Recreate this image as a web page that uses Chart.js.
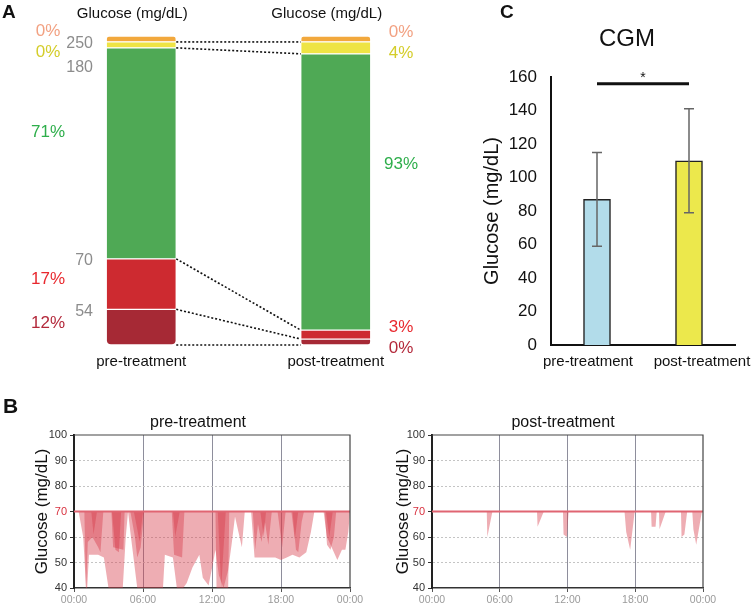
<!DOCTYPE html>
<html>
<head>
<meta charset="utf-8">
<script src="https://cdn.jsdelivr.net/npm/chart.js@4.4.1/dist/chart.umd.min.js"></script>
<style>
  html, body { margin: 0; padding: 0; background: #fff; }
  body { width: 752px; height: 607px; position: relative; overflow: hidden; }
  .box { position: absolute; }
</style>
</head>
<body>
<div class="box" style="left:0;top:0"><canvas id="rangeChart" width="440" height="380"></canvas></div>
<div class="box" style="left:420px;top:0"><canvas id="cgmChart" width="332" height="380"></canvas></div>
<div class="box" style="left:0;top:380px"><canvas id="preChart" width="376" height="227"></canvas></div>
<div class="box" style="left:376px;top:380px"><canvas id="postChart" width="376" height="227"></canvas></div>
<script>
const FONT = '"Liberation Sans", Arial, sans-serif';

// Panel A - time in ranges, listed bottom to top
const rangeNames = ['very low', 'low', 'in range', 'high', 'very high'];
const rangeCutoffs = ['54', '70', '180', '250'];
const groupNames = ['pre-treatment', 'post-treatment'];
const prePercent = [12, 17, 71, 0, 0];
const postPercent = [0, 3, 93, 4, 0];

// Panel C - mean CGM glucose with SD
const cgmMean = [87, 110];
const cgmSd = [28, 31];
const sigLevel = 156;

// Panel B - glucose traces below 70 mg/dL, [hour, mg/dL]
const hourLabels = ['00:00', '06:00', '12:00', '18:00', '00:00'];
const preTrace1 = [[0,70],[0.4,70],[0.8,60],[1.1,36],[1.3,53],[2.1,53],[2.6,52],[3.1,37],[4.2,37],[4.5,60],[4.7,70],
  [4.9,62],[5.5,40],[6.2,37],[7.7,37],[7.9,53],[8.6,52],[9.0,38],[9.5,40],[9.8,42],[10.3,48],[10.9,53],[11.2,44],
  [11.7,41],[12.1,50],[12.3,55],[12.6,45],[13.0,40],[13.4,47],[13.7,57],[14.0,68],[14.3,62],[14.6,56],[14.85,70],
  [15.4,70],[15.7,52],[16.2,52],[17.0,52],[17.5,52],[18.0,51],[18.5,52],[19.0,53],[19.6,52],[20.2,54],[20.6,62],
  [20.9,70],[21.7,70],[22.0,60],[22.5,55],[22.9,51],[23.3,55],[23.6,55],[23.85,62],[24,70]];
const preTrace2 = [[0,70],[0.9,70],[1.04,38],[1.2,58],[1.6,60],[2.1,56],[2.3,54],[2.55,70],[3.25,70],[3.4,56],
  [4.3,55],[4.4,70],[4.9,70],[5.3,60],[5.5,52],[5.8,56],[6.1,70],[8.5,70],[8.7,53],[9.4,52],[9.6,70],[12.3,70],
  [12.4,38],[13.4,38],[13.5,70],[15.55,70],[15.75,55],[16.0,65],[16.3,58],[16.6,66],[16.9,57],[17.2,70],[17.7,70],
  [18.1,56],[18.4,70],[19.0,70],[19.3,55],[19.5,54],[19.8,66],[20.0,70],[21.8,70],[22.0,57],[22.3,55],[22.6,60],
  [22.8,70],[24,70]];
const preTrace3 = [[0,70],[1.5,70],[1.7,61],[2.0,70],[3.3,70],[3.6,55],[3.9,54],[4.1,70],[5.2,70],[5.5,63],
  [5.7,58],[6.0,70],[8.6,70],[8.8,60],[9.2,70],[12.5,70],[12.8,40],[13.2,70],[16.2,70],[16.5,60],[16.7,70],
  [18.9,70],[19.2,59],[19.5,70],[21.9,70],[22.2,60],[22.5,70],[24,70]];
const postTrace1 = [[0,70],[4.85,70],[4.9,60],[5.35,70],[9.3,70],[9.35,64],[9.9,70],[11.6,70],[11.65,61],[11.95,60],
  [12.1,70],[17.05,70],[17.2,62],[17.55,55],[17.95,70],[19.4,70],[19.45,64],[19.8,64],[19.9,70],[20.1,70],
  [20.15,63],[20.7,70],[22.05,70],[22.1,60],[22.35,61],[22.6,70],[23.05,70],[23.15,63],[23.4,57],[23.9,70],[24,70]];

const rangeColors = ['#a62935', '#cd2a30', '#4fa955', '#eee444', '#f2a83c'];
const rangeTextColors = ['#b3283a', '#e8282e', '#2eae4b', '#d4cd2a', '#f2a182'];
const MIN_SHOWN = 2; // zero-percent ranges still get a thin band

function text(ctx, str, x, y, font, color, align) {
  ctx.font = font;
  ctx.fillStyle = color;
  ctx.textAlign = align || 'center';
  ctx.textBaseline = 'middle';
  ctx.fillText(str, x, y);
}

function spread(items, gap) {
  items.sort((p, q) => p.y - q.y);
  for (let it = 0; it < 40; it++) {
    for (let i = 1; i < items.length; i++) {
      const d = items[i].y - items[i - 1].y;
      if (d < gap) {
        const push = (gap - d) / 2;
        items[i].y += push;
        items[i - 1].y -= push;
      }
    }
  }
  return items;
}

// ---------- Panel A ----------
const shownPre = prePercent.map(v => Math.max(v, MIN_SHOWN));
const shownPost = postPercent.map(v => Math.max(v, MIN_SHOWN));
const stackMax = Math.max(shownPre.reduce((a, b) => a + b, 0), shownPost.reduce((a, b) => a + b, 0));

const rangeDecor = {
  id: 'rangeDecor',
  afterDatasetsDraw(chart) {
    const ctx = chart.ctx;
    const bars = chart.data.datasets.map((d, i) => chart.getDatasetMeta(i).data);
    ctx.save();
    ctx.strokeStyle = '#111';
    ctx.lineWidth = 1.6;
    ctx.setLineDash([2, 2]);
    bars.forEach(pair => {
      const a = pair[0], b = pair[1];
      ctx.beginPath();
      ctx.moveTo(a.x + a.width / 2, a.base);
      ctx.lineTo(b.x - b.width / 2, b.base);
      ctx.stroke();
    });
    ctx.setLineDash([]);

    // cutoff values next to the pre-treatment bar
    const cut = rangeCutoffs.map((c, k) => ({ t: c, y: bars[k + 1][0].base + 2 })).reverse();
    for (let i = 1; i < cut.length; i++) cut[i].y = Math.max(cut[i].y, cut[i - 1].y + 24);
    cut.forEach(c => text(ctx, c.t, 93, c.y, `16px ${FONT}`, '#8c8c8c', 'right'));

    // percentages on both sides
    [[prePercent, 0, 48], [postPercent, 1, 401]].forEach(([pct, j, x]) => {
      const items = pct.map((v, k) => {
        const el = bars[k][j];
        return { t: v + '%', c: rangeTextColors[k], y: el.y + (el.base - el.y) * 0.4 };
      });
      spread(items, 21).forEach(it => text(ctx, it.t, x, it.y, `17px ${FONT}`, it.c));
    });

    // headers
    text(ctx, 'Glucose (mg/dL)', bars[0][0].x - 9, 14, `15px ${FONT}`, '#111');
    text(ctx, 'Glucose (mg/dL)', bars[0][1].x - 9, 14, `15px ${FONT}`, '#111');
    text(ctx, 'A', 2, 13, `bold 19px ${FONT}`, '#111', 'left');
    ctx.restore();
  }
};

new Chart(document.getElementById('rangeChart'), {
  type: 'bar',
  data: {
    labels: groupNames,
    datasets: rangeNames.map((name, i) => ({
      label: name,
      data: [shownPre[i], shownPost[i]],
      backgroundColor: rangeColors[i],
      borderColor: '#ffffff',
      borderWidth: 1,
      borderSkipped: false,
      borderRadius: i === 0 ? { bottomLeft: 5, bottomRight: 5 } :
                    i === rangeNames.length - 1 ? { topLeft: 5, topRight: 5 } : 0,
      barThickness: 70
    }))
  },
  options: {
    responsive: false,
    animation: false,
    layout: { padding: { left: 44, right: 7, top: 36, bottom: 5 } },
    plugins: { legend: { display: false }, tooltip: { enabled: false } },
    scales: {
      x: {
        stacked: true,
        grid: { display: false, drawTicks: false },
        border: { display: false },
        ticks: { color: '#111', font: { size: 15, family: FONT }, padding: 8, maxRotation: 0, autoSkip: false },
        afterFit: s => { s.height = 30; }
      },
      y: { stacked: true, display: false, min: 0, max: stackMax }
    }
  },
  plugins: [rangeDecor]
});

// ---------- Panel C ----------
const cgmDecor = {
  id: 'cgmDecor',
  afterDatasetsDraw(chart) {
    const ctx = chart.ctx;
    const y = chart.scales.y;
    const bars = chart.getDatasetMeta(0).data;
    ctx.save();
    ctx.strokeStyle = '#666';
    ctx.lineWidth = 1.5;
    bars.forEach((bar, i) => {
      const top = y.getPixelForValue(cgmMean[i] + cgmSd[i]);
      const bot = y.getPixelForValue(cgmMean[i] - cgmSd[i]);
      ctx.beginPath();
      ctx.moveTo(bar.x, top); ctx.lineTo(bar.x, bot);
      ctx.moveTo(bar.x - 5, top); ctx.lineTo(bar.x + 5, top);
      ctx.moveTo(bar.x - 5, bot); ctx.lineTo(bar.x + 5, bot);
      ctx.stroke();
    });
    const sy = y.getPixelForValue(sigLevel);
    ctx.strokeStyle = '#111';
    ctx.lineWidth = 3;
    ctx.beginPath();
    ctx.moveTo(bars[0].x, sy);
    ctx.lineTo(bars[1].x, sy);
    ctx.stroke();
    text(ctx, '*', (bars[0].x + bars[1].x) / 2, sy - 6, `14px ${FONT}`, '#111');
    // category names, nudged apart as in the original figure
    const by = chart.chartArea.bottom + 17;
    text(ctx, groupNames[0], bars[0].x - 9, by, `15px ${FONT}`, '#111');
    text(ctx, groupNames[1], bars[1].x + 13, by, `15px ${FONT}`, '#111');
    text(ctx, 'CGM', 207, 39, `24px ${FONT}`, '#111');
    text(ctx, 'C', 80, 13, `bold 19px ${FONT}`, '#111', 'left');
    ctx.restore();
  }
};

new Chart(document.getElementById('cgmChart'), {
  type: 'bar',
  data: {
    labels: groupNames,
    datasets: [{
      data: cgmMean,
      backgroundColor: ['#b2dcea', '#ece84c'],
      borderColor: '#222',
      borderWidth: 1.5,
      barThickness: 27
    }]
  },
  options: {
    responsive: false,
    animation: false,
    layout: { padding: { left: 60, right: 17, top: 77, bottom: 5 } },
    plugins: { legend: { display: false }, tooltip: { enabled: false } },
    scales: {
      x: {
        grid: { display: false, drawTicks: false },
        border: { color: '#111', width: 2 },
        ticks: { display: false },
        afterFit: s => { s.height = 30; }
      },
      y: {
        min: 0, max: 160,
        grid: { display: false, drawTicks: false },
        border: { color: '#111', width: 2 },
        ticks: { stepSize: 20, color: '#111', font: { size: 17, family: FONT }, padding: 14 },
        title: { display: true, text: 'Glucose (mg/dL)', color: '#111', font: { size: 20, family: FONT }, padding: 0 },
        afterFit: s => { s.width = 71; }
      }
    }
  },
  plugins: [cgmDecor]
});

// ---------- Panel B ----------
function dayChart(id, title, traces, opt) {
  const decor = {
    id: 'dayDecor' + id,
    afterDatasetsDraw(chart) {
      const { ctx, chartArea: a, scales: { y } } = chart;
      ctx.save();
      const y70 = y.getPixelForValue(70);
      ctx.strokeStyle = '#e06572';
      ctx.lineWidth = 2;
      ctx.beginPath(); ctx.moveTo(a.left, y70); ctx.lineTo(a.right, y70); ctx.stroke();
      ctx.strokeStyle = '#444';
      ctx.lineWidth = 1.2;
      ctx.beginPath();
      ctx.moveTo(a.left, a.top); ctx.lineTo(a.right, a.top); ctx.lineTo(a.right, a.bottom);
      ctx.stroke();
      text(ctx, title, opt.titleX, 43, `16px ${FONT}`, '#111');
      if (opt.tag) text(ctx, opt.tag, 3, 27, `bold 21px ${FONT}`, '#111', 'left');
      ctx.restore();
    }
  };
  new Chart(document.getElementById(id), {
    type: 'line',
    data: {
      datasets: traces.map(tr => ({
        data: tr.map(p => ({ x: p[0], y: p[1] })),
        fill: { value: 70 },
        backgroundColor: 'rgba(215, 60, 75, 0.42)',
        borderWidth: 0,
        pointRadius: 0,
        tension: 0
      }))
    },
    options: {
      responsive: false,
      animation: false,
      layout: { padding: { left: opt.padLeft, right: opt.padRight, top: 55, bottom: 0 } },
      plugins: { legend: { display: false }, tooltip: { enabled: false } },
      scales: {
        x: {
          type: 'linear', min: 0, max: 24,
          grid: {
            color: c => (c.tick && (c.tick.value === 0 || c.tick.value === 24)) ? 'rgba(0,0,0,0)' : '#8e8e9c',
            lineWidth: 1, tickLength: 4, tickColor: '#555'
          },
          border: { color: '#333', width: 1.5 },
          ticks: {
            stepSize: 6, color: '#9a9a9a', padding: 2,
            font: { size: 10.5, family: FONT },
            callback: (v, i) => hourLabels[i]
          },
          afterFit: s => { s.height = 19; }
        },
        y: {
          min: 40, max: 100,
          grid: {
            color: c => (c.tick && [50, 60, 80, 90].includes(c.tick.value)) ? '#c4c4c4' : 'rgba(0,0,0,0)',
            lineWidth: 1, tickLength: 4, tickColor: '#333'
          },
          border: { color: '#222', width: 2, dash: [2, 2] },
          ticks: {
            stepSize: 10, padding: 3,
            color: c => c.tick.value === 70 ? '#d8303e' : '#333',
            font: { size: 11, family: FONT }
          },
          title: { display: true, text: 'Glucose (mg/dL)', color: '#111', font: { size: 17, family: FONT }, padding: 0 },
          afterFit: s => { s.width = opt.axisWidth; }
        }
      }
    },
    plugins: [decor]
  });
}

dayChart('preChart', 'pre-treatment', [preTrace1, preTrace2, preTrace3],
  { padLeft: 32, padRight: 26, axisWidth: 42, titleX: 198, tag: 'B' });
dayChart('postChart', 'post-treatment', [postTrace1],
  { padLeft: 17, padRight: 49, axisWidth: 39, titleX: 187 });
</script>
</body>
</html>
